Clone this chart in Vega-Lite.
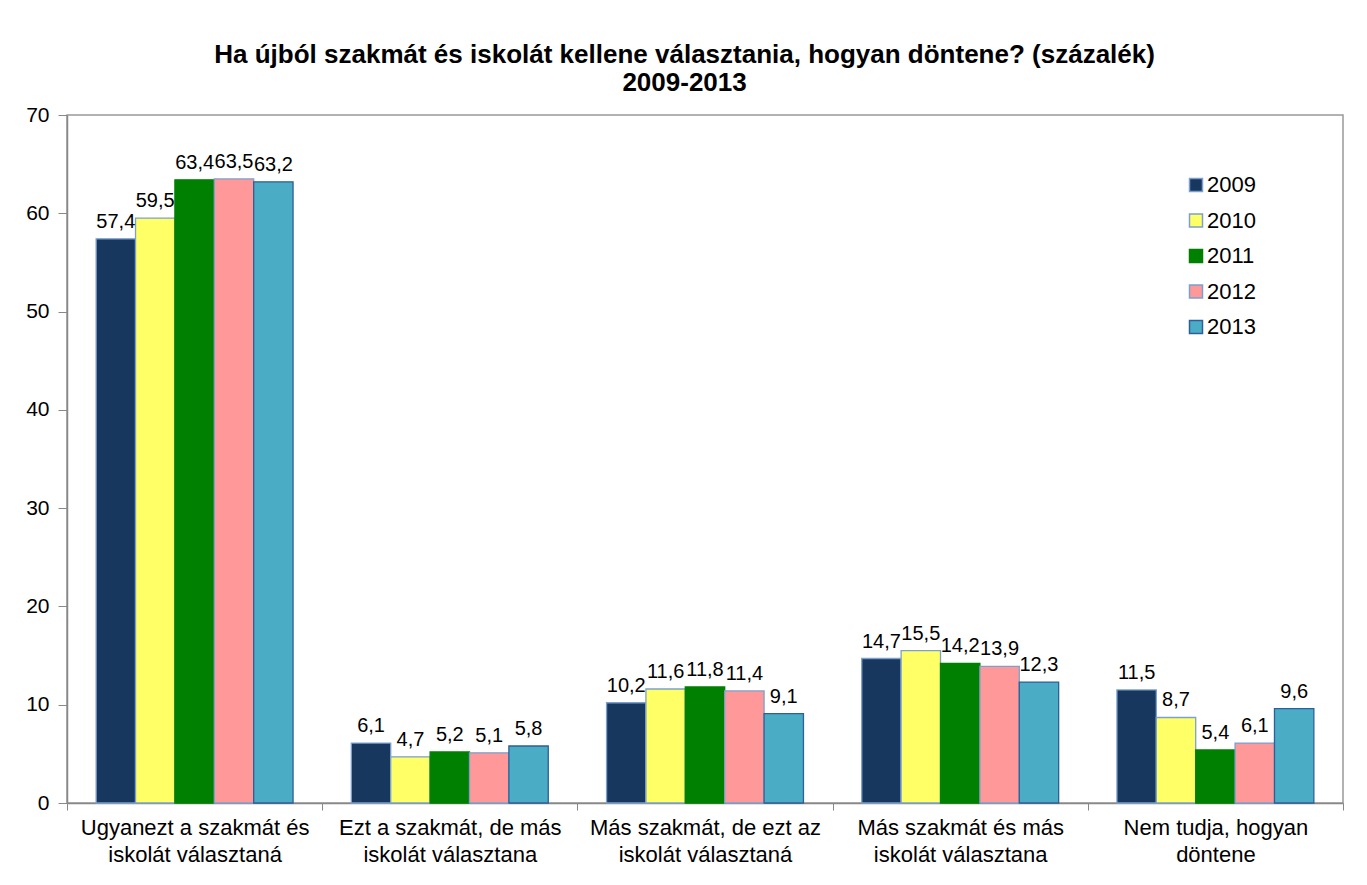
{
  "$schema": "https://vega.github.io/schema/vega-lite/v6.json",
  "width": 1276,
  "height": 688,
  "autosize": {"type": "none"},
  "padding": {"left": 67, "top": 115, "right": 24, "bottom": 82},
  "background": "white",
  "title": {
    "text": ["Ha újból szakmát és iskolát kellene választania, hogyan döntene? (százalék)", "2009-2013"],
    "font": "Liberation Sans",
    "fontSize": 26,
    "fontWeight": "bold",
    "color": "black",
    "anchor": "middle",
    "frame": "bounds",
    "lineHeight": 28,
    "offset": 8
  },
  "data": {
    "values": [
      {"valasz": "Ugyanezt a szakmát és iskolát választaná", "ev": "2009", "ertek": 57.4},
      {"valasz": "Ugyanezt a szakmát és iskolát választaná", "ev": "2010", "ertek": 59.5},
      {"valasz": "Ugyanezt a szakmát és iskolát választaná", "ev": "2011", "ertek": 63.4},
      {"valasz": "Ugyanezt a szakmát és iskolát választaná", "ev": "2012", "ertek": 63.5},
      {"valasz": "Ugyanezt a szakmát és iskolát választaná", "ev": "2013", "ertek": 63.2},
      {"valasz": "Ezt a szakmát, de más iskolát választana", "ev": "2009", "ertek": 6.1},
      {"valasz": "Ezt a szakmát, de más iskolát választana", "ev": "2010", "ertek": 4.7},
      {"valasz": "Ezt a szakmát, de más iskolát választana", "ev": "2011", "ertek": 5.2},
      {"valasz": "Ezt a szakmát, de más iskolát választana", "ev": "2012", "ertek": 5.1},
      {"valasz": "Ezt a szakmát, de más iskolát választana", "ev": "2013", "ertek": 5.8},
      {"valasz": "Más szakmát, de ezt az iskolát választaná", "ev": "2009", "ertek": 10.2},
      {"valasz": "Más szakmát, de ezt az iskolát választaná", "ev": "2010", "ertek": 11.6},
      {"valasz": "Más szakmát, de ezt az iskolát választaná", "ev": "2011", "ertek": 11.8},
      {"valasz": "Más szakmát, de ezt az iskolát választaná", "ev": "2012", "ertek": 11.4},
      {"valasz": "Más szakmát, de ezt az iskolát választaná", "ev": "2013", "ertek": 9.1},
      {"valasz": "Más szakmát és más iskolát választana", "ev": "2009", "ertek": 14.7},
      {"valasz": "Más szakmát és más iskolát választana", "ev": "2010", "ertek": 15.5},
      {"valasz": "Más szakmát és más iskolát választana", "ev": "2011", "ertek": 14.2},
      {"valasz": "Más szakmát és más iskolát választana", "ev": "2012", "ertek": 13.9},
      {"valasz": "Más szakmát és más iskolát választana", "ev": "2013", "ertek": 12.3},
      {"valasz": "Nem tudja, hogyan döntene", "ev": "2009", "ertek": 11.5},
      {"valasz": "Nem tudja, hogyan döntene", "ev": "2010", "ertek": 8.7},
      {"valasz": "Nem tudja, hogyan döntene", "ev": "2011", "ertek": 5.4},
      {"valasz": "Nem tudja, hogyan döntene", "ev": "2012", "ertek": 6.1},
      {"valasz": "Nem tudja, hogyan döntene", "ev": "2013", "ertek": 9.6}
    ]
  },
  "encoding": {
    "x": {
      "field": "valasz",
      "type": "nominal",
      "sort": null,
      "scale": {"paddingInner": 0, "paddingOuter": 0},
      "axis": {
        "title": null,
        "labelAngle": 0,
        "labelFont": "Liberation Sans",
        "labelFontSize": 22,
        "labelColor": "black",
        "labelLineHeight": 27,
        "labelPadding": 7,
        "labelLimit": 0,
        "tickBand": "extent",
        "tickSize": 7,
        "tickColor": "#888888",
        "domainColor": "#888888",
        "domainWidth": 1.5,
        "labelExpr": "datum.value == 'Ugyanezt a szakmát és iskolát választaná' ? ['Ugyanezt a szakmát és', 'iskolát választaná'] : datum.value == 'Ezt a szakmát, de más iskolát választana' ? ['Ezt a szakmát, de más', 'iskolát választana'] : datum.value == 'Más szakmát, de ezt az iskolát választaná' ? ['Más szakmát, de ezt az', 'iskolát választaná'] : datum.value == 'Más szakmát és más iskolát választana' ? ['Más szakmát és más', 'iskolát választana'] : datum.value == 'Nem tudja, hogyan döntene' ? ['Nem tudja, hogyan', 'döntene'] : ''"
      }
    },
    "xOffset": {
      "field": "ev",
      "type": "nominal",
      "scale": {"paddingInner": 0, "paddingOuter": 0.74}
    },
    "y": {
      "field": "ertek",
      "type": "quantitative",
      "scale": {"domain": [0, 70]},
      "axis": {
        "title": null,
        "grid": false,
        "values": [0, 10, 20, 30, 40, 50, 60, 70],
        "labelFont": "Liberation Sans",
        "labelFontSize": 21,
        "labelColor": "black",
        "labelPadding": 9,
        "tickSize": 9,
        "tickColor": "#888888",
        "domainColor": "#888888",
        "domainWidth": 1.5
      }
    }
  },
  "layer": [
    {
      "mark": {"type": "bar", "strokeWidth": 1.3},
      "encoding": {
        "fill": {
          "field": "ev",
          "type": "nominal",
          "scale": {"domain": ["2009", "2010", "2011", "2012", "2013"], "range": ["#17375E", "#FFFF66", "#008000", "#FF9999", "#4BACC6"]},
          "legend": {
            "title": null,
            "orient": "none",
            "legendX": 1118,
            "legendY": 59,
            "padding": 0,
            "symbolType": "square",
            "symbolSize": 169,
            "symbolStrokeWidth": 1.5,
            "labelFont": "Liberation Sans",
            "labelFontSize": 22,
            "labelColor": "black",
            "labelOffset": 0,
            "rowPadding": 13.5
          }
        },
        "stroke": {
          "field": "ev",
          "type": "nominal",
          "scale": {"domain": ["2009", "2010", "2011", "2012", "2013"], "range": ["#7BA0CD", "#7BA0CD", "#008000", "#7BA0CD", "#2F5F98"]},
          "legend": {
            "title": null,
            "orient": "none",
            "legendX": 1118,
            "legendY": 59,
            "padding": 0,
            "symbolType": "square",
            "symbolSize": 169,
            "symbolStrokeWidth": 1.5,
            "labelFont": "Liberation Sans",
            "labelFontSize": 22,
            "labelColor": "black",
            "labelOffset": 0,
            "rowPadding": 13.5
          }
        }
      }
    },
    {
      "mark": {"type": "text", "baseline": "alphabetic", "dy": -11, "font": "Liberation Sans", "fontSize": 20, "color": "black"},
      "encoding": {
        "text": {"field": "ertek", "type": "quantitative", "format": ".1f"}
      }
    }
  ],
  "config": {
    "locale": {"number": {"decimal": ",", "thousands": " ", "grouping": [3], "currency": ["", ""]}},
    "view": {"stroke": "#999999", "strokeWidth": 1.5}
  }
}
